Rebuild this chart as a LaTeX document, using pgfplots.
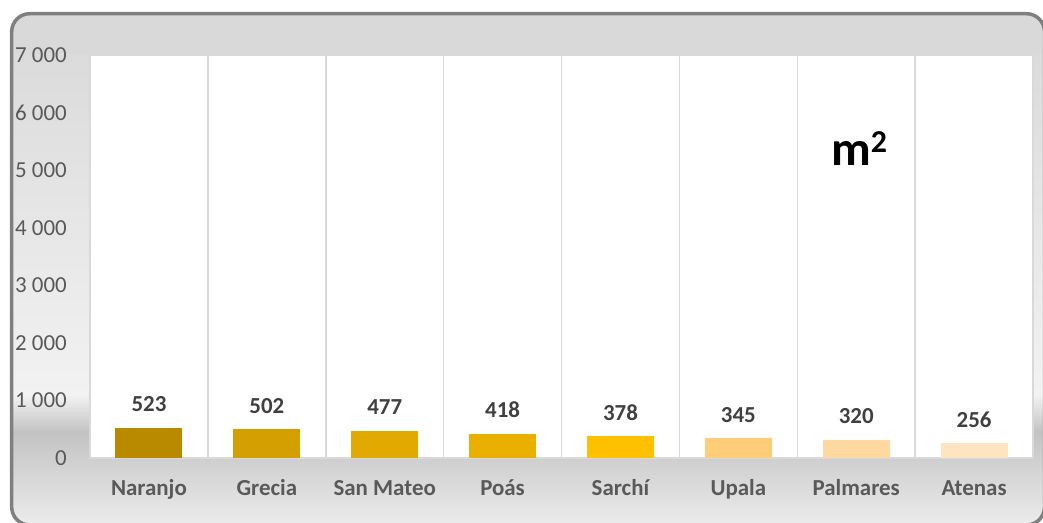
\documentclass[border=0pt]{standalone}
\usepackage{fontspec}
\setmainfont{Carlito}
\usepackage{pgfplots}
\pgfplotsset{compat=1.18}
\definecolor{c1}{HTML}{B98A00}
\definecolor{c2}{HTML}{D49F00}
\definecolor{c3}{HTML}{E2AA00}
\definecolor{c4}{HTML}{E9B000}
\definecolor{c5}{HTML}{FFC000}
\definecolor{c6}{HTML}{FFCC78}
\definecolor{c7}{HTML}{FFD89F}
\definecolor{c8}{HTML}{FFE4C2}
\definecolor{bgT}{HTML}{D9D9D9}
\definecolor{bgA}{HTML}{DBDBDB}
\definecolor{bgB}{HTML}{F2F2F2}
\definecolor{bgC}{HTML}{C3C3C3}
\definecolor{bgD}{HTML}{EDEDED}
\definecolor{framec}{HTML}{7F7F7F}
\definecolor{gridc}{HTML}{D9D9D9}
\definecolor{tickc}{HTML}{595959}
\definecolor{labc}{HTML}{404040}
\begin{document}
\begin{tikzpicture}
\path (0bp,0bp) rectangle (1043bp,523bp);
\begin{scope}
\clip[overlay, rounded corners=18bp] (11.7bp,-2bp) rectangle (1044.5bp,509.3bp);
\fill[overlay, bgT] (0bp,468bp) rectangle (1043bp,523bp);
\fill[overlay, top color=bgA, bottom color=bgB] (0bp,128bp) rectangle (1043bp,468.1bp);
\fill[overlay, top color=bgB, bottom color=bgC] (0bp,91bp) rectangle (1043bp,128.1bp);
\fill[overlay, top color=bgC, bottom color=bgD] (0bp,-5bp) rectangle (1043bp,91.1bp);
\end{scope}
\draw[overlay, line width=3.5bp, framec, rounded corners=18bp] (11.7bp,-2bp) rectangle (1044.5bp,509.3bp);
\begin{axis}[
  at={(90bp,65bp)}, anchor=south west,
  scale only axis, width=943bp, height=403bp,
  xmin=-0.5, xmax=7.5, ymin=0, ymax=7000,
  ybar, bar width=67bp, bar shift=0pt,
  axis background/.style={fill=white},
  axis line style={draw=gridc, line width=1.5bp},
  xtick={0,1,2,3,4,5,6,7},
  xticklabels={Naranjo,Grecia,San Mateo,Poás,Sarchí,Upala,Palmares,Atenas},
  minor xtick={0.5,1.5,2.5,3.5,4.5,5.5,6.5},
  xminorgrids,
  minor grid style={draw=gridc, line width=1.5bp},
  major tick length=0pt, minor tick length=0pt,
  tick style={draw=none},
  ytick={0,1000,2000,3000,4000,5000,6000,7000},
  yticklabels={0,1 000,2 000,3 000,4 000,5 000,6 000,7 000},
  yticklabel style={anchor=east, inner sep=0pt, xshift=-23bp, text=tickc, font=\fontsize{23}{23}\selectfont},
  xticklabel style={anchor=base, inner sep=0pt, yshift=-37bp, text=tickc, font=\bfseries\fontsize{23}{23}\selectfont},
  /pgf/number format/assume math mode=true,
  nodes near coords,
  every node near coord/.append style={anchor=base, inner sep=0pt, yshift=16bp, text=labc, font=\bfseries\fontsize{23}{23}\selectfont},
  clip=false,
]
\addplot[fill=c1, draw=none] coordinates {(0,523)};
\addplot[fill=c2, draw=none] coordinates {(1,502)};
\addplot[fill=c3, draw=none] coordinates {(2,477)};
\addplot[fill=c4, draw=none] coordinates {(3,418)};
\addplot[fill=c5, draw=none] coordinates {(4,378)};
\addplot[fill=c6, draw=none] coordinates {(5,345)};
\addplot[fill=c7, draw=none] coordinates {(6,320)};
\addplot[fill=c8, draw=none] coordinates {(7,256)};
\node[anchor=base, inner sep=0pt, font=\bfseries\fontsize{49}{49}\selectfont, xshift=3bp] at (axis cs:6,5089) {m\raisebox{13bp}{\fontsize{32}{32}\selectfont 2}};
\end{axis}
\end{tikzpicture}
\end{document}
